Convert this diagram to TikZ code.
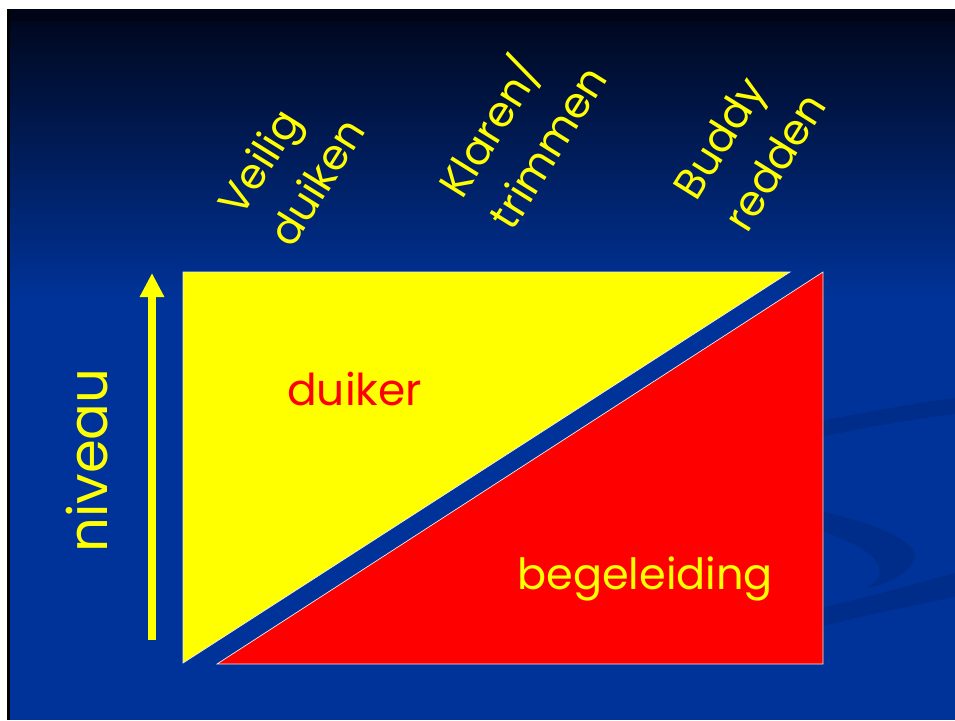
\documentclass[tikz,border=0pt]{standalone}
\usepackage{fontspec}
\setmainfont{Poppins}
\usepackage{xcolor}
\usetikzlibrary{arrows.meta}

\definecolor{slideblue}{RGB}{0,51,153}
\definecolor{slidetop}{RGB}{0,8,32}
\definecolor{slidebar}{RGB}{0,4,22}
\definecolor{swoosh}{RGB}{0,44,138}
\definecolor{hiyellow}{RGB}{255,255,0}
\definecolor{hired}{RGB}{255,0,0}

\begin{document}
\begin{tikzpicture}[
  x=0.02cm, y=-0.02cm,
  skill/.style={text=hiyellow, font=\fontsize{24}{34}\selectfont, align=left, rotate=58},
  area/.style={draw=white!85!gray, line width=0.4pt},
  arr/.style={-{Triangle[length=0.48cm, width=0.46cm]}, line width=0.16cm, draw=hiyellow}
]
  \useasboundingbox (0,0) rectangle (955,720);
  \fill[white] (0,0) rectangle (955,720);
  \fill[black] (7,9) rectangle (955,720);
  \fill[slideblue] (10,9) rectangle (955,720);
  \shade[top color=slidetop, bottom color=slideblue] (10,21) rectangle (955,300);
  \fill[slidebar] (10,9) rectangle (955,21);

  % background swooshes
  \fill[swoosh] (780,428) .. controls (850,416) and (900,405) .. (955,398) -- (955,414) .. controls (900,421) and (850,430) .. (780,446) -- cycle;
  \fill[swoosh] (800,507) .. controls (880,522) and (925,545) .. (913,562) .. controls (905,575) and (890,583) .. (867,588) .. controls (890,575) and (890,550) .. (800,524) -- cycle;
  \fill[swoosh] (800,612) .. controls (860,600) and (910,585) .. (955,573) -- (955,597) .. controls (910,606) and (860,616) .. (800,632) -- cycle;

  % corners of the two areas
  \coordinate (ytl) at (183,272);
  \coordinate (ytr) at (790,272);
  \coordinate (ybl) at (183,663);
  \coordinate (rtr) at (823,272);
  \coordinate (rbr) at (823,664);
  \coordinate (rbl) at (217,664);

  \filldraw[area, fill=hiyellow] (ytl) -- (ytr) -- (ybl) -- cycle;
  \filldraw[area, fill=hired] (rtr) -- (rbr) -- (rbl) -- cycle;

  \node[text=hired, font=\fontsize{25}{30}\selectfont, anchor=base west] (duiker) at (281,405) {duiker};
  \node[text=hiyellow, font=\fontsize{24.5}{30}\selectfont, anchor=base west] (begel) at (511,589) {begeleiding};

  % level axis
  \coordinate (low) at (152,640);
  \coordinate (high) at (152,273);
  \draw[arr] (low) -- (high);
  \node[text=hiyellow, font=\fontsize{31}{36}\selectfont, rotate=90, anchor=base west] (niveau) at (107,559) {niveau};

  % skills
  \node[skill] (veilig) at (291,166) {Veilig\\duiken};
  \node[skill] (klaren) at (519,129) {Klaren/\\trimmen};
  \node[skill] (buddy) at (749,146) {Buddy\\redden};
\end{tikzpicture}
\end{document}
